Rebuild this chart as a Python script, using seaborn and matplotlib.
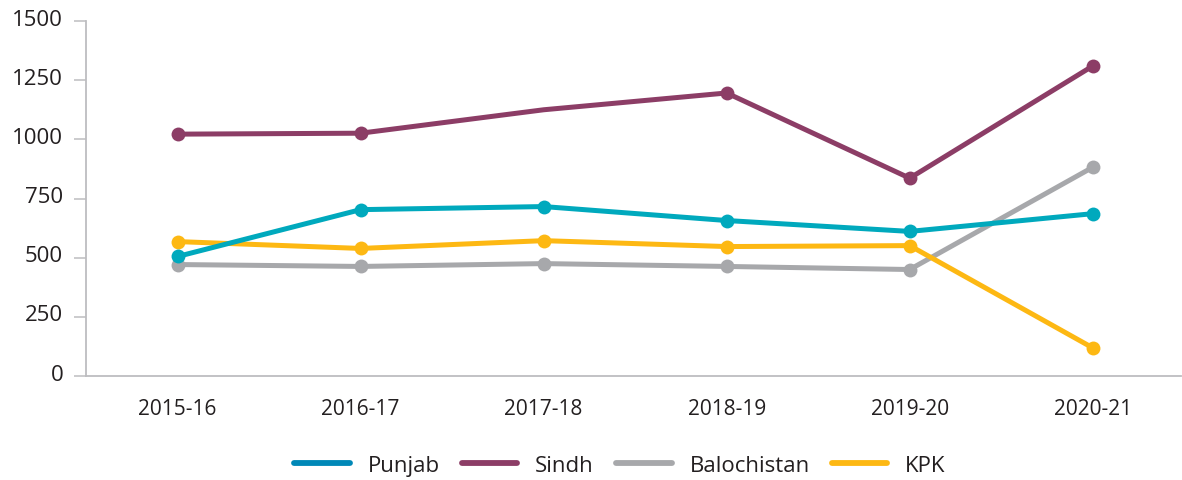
import matplotlib
matplotlib.use("Agg")
import matplotlib.pyplot as plt
import matplotlib.transforms as mtrans
from matplotlib.lines import Line2D
import seaborn as sns

years = ['2015-16', '2016-17', '2017-18', '2018-19', '2019-20', '2020-21']
punjab = [505, 703, 716, 657, 611, 686]
sindh = [1022, 1026, 1125, 1196, 836, 1310]
balochistan = [471, 463, 475, 463, 450, 882]
kpk = [568, 539, 572, 547, 551, 119]

# markers drawn on each point (Sindh 2017-18 has none in the original)
sindh_marks = [True, True, False, True, True, True]
all_marks = [True] * 6

line_colors = {'Punjab': '#00A9BD', 'Sindh': '#8C3D66', 'Balochistan': '#A7A8AB', 'KPK': '#FDB813'}
legend_colors = {'Punjab': '#0088B7', 'Sindh': '#8C3D66', 'Balochistan': '#A7A8AB', 'KPK': '#FDB813'}

sns.set_style('white')
plt.rcParams['font.family'] = ['Open Sans', 'DejaVu Sans']

fig = plt.figure(figsize=(11.82, 4.81), dpi=100)
ax = fig.add_axes([0.0728, 0.2162, 0.926, 0.7380])

# drawing order: grey at the bottom, then yellow, teal, purple
series = [('Balochistan', balochistan, all_marks),
          ('KPK', kpk, all_marks),
          ('Punjab', punjab, all_marks),
          ('Sindh', sindh, sindh_marks)]
for i, (name, vals, marks) in enumerate(series):
    sns.lineplot(x=years, y=vals, ax=ax, color=line_colors[name], linewidth=3.6,
                 marker='o', markersize=10, markeredgewidth=0, markevery=marks,
                 solid_capstyle='round', zorder=3 + i, sort=False)

ax.set_xlim(-0.5, 5.48)
ax.set_ylim(0, 1500)
ax.set_yticks([0, 250, 500, 750, 1000, 1250, 1500])
ax.set_xlabel('')
ax.set_ylabel('')

for s in ['top', 'right']:
    ax.spines[s].set_visible(False)
for s in ['left', 'bottom']:
    ax.spines[s].set_color('#BDBDC0')
    ax.spines[s].set_linewidth(1.3)

ax.tick_params(axis='y', length=8.5, width=1.1, color='#BDBDC0', pad=8,
               labelsize=16, labelcolor='#231F20', left=True)
ax.tick_params(axis='x', length=0, pad=16, labelsize=15, labelcolor='#231F20')

# y labels sit a little above their ticks
shift = mtrans.ScaledTranslation(0, 0.045, fig.dpi_scale_trans)
for lab in ax.get_yticklabels():
    lab.set_transform(lab.get_transform() + shift)

handles = [Line2D([0], [0], color=legend_colors[n], linewidth=4.2, solid_capstyle='round')
           for n in ['Punjab', 'Sindh', 'Balochistan', 'KPK']]
fig.legend(handles, ['Punjab', 'Sindh', 'Balochistan', 'KPK'], loc='center',
           bbox_to_anchor=(0.5245, 0.031), ncol=4, frameon=False, fontsize=16,
           handlelength=2.5, handletextpad=0.8, columnspacing=1.0,
           labelcolor='#231F20')

fig.savefig('out.png', dpi=100)
